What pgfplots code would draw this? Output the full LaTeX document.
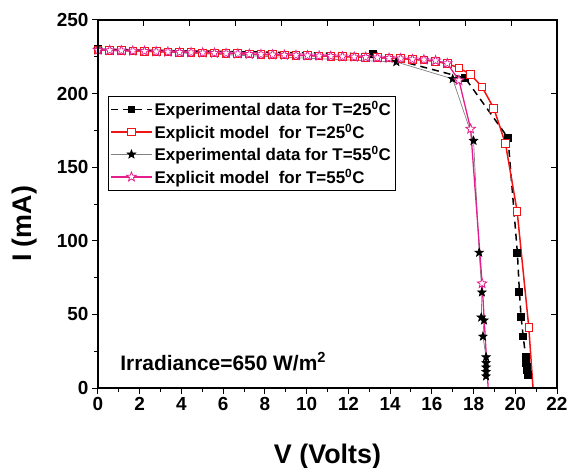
\documentclass[border=0pt]{standalone}
\usepackage{fontspec}
\setmainfont{Liberation Sans}
\usepackage{pgfplots}
\pgfplotsset{compat=1.18}
\usetikzlibrary{shapes.geometric}
\definecolor{orred}{RGB}{240,20,20}
\definecolor{ormag}{RGB}{228,30,140}

% filled five-pointed star
\pgfdeclareplotmark{fstar}{%
  \pgfpathmoveto{\pgfpointpolar{90}{\pgfplotmarksize}}%
  \pgfpathlineto{\pgfpointpolar{126}{0.42\pgfplotmarksize}}%
  \pgfpathlineto{\pgfpointpolar{162}{\pgfplotmarksize}}%
  \pgfpathlineto{\pgfpointpolar{198}{0.42\pgfplotmarksize}}%
  \pgfpathlineto{\pgfpointpolar{234}{\pgfplotmarksize}}%
  \pgfpathlineto{\pgfpointpolar{270}{0.42\pgfplotmarksize}}%
  \pgfpathlineto{\pgfpointpolar{306}{\pgfplotmarksize}}%
  \pgfpathlineto{\pgfpointpolar{342}{0.42\pgfplotmarksize}}%
  \pgfpathlineto{\pgfpointpolar{18}{\pgfplotmarksize}}%
  \pgfpathlineto{\pgfpointpolar{54}{0.42\pgfplotmarksize}}%
  \pgfpathclose
  \pgfusepathqfillstroke
}

\pgfplotsset{
  exp25/.style={black, line width=1.5bp, dash pattern=on 7bp off 5bp,
    mark=square*, mark size=3.2bp, mark options={solid, fill=black}},
  mod25/.style={orred, line width=1.5bp, mark=square*, mark size=3.8bp,
    mark options={solid, draw=orred, fill=white, line width=1bp}},
  exp55/.style={gray, line width=0.7bp, mark=fstar, mark size=4.5bp,
    mark options={black, fill=black, line width=0.6bp}},
  mod55/.style={ormag, line width=1.3bp, mark=fstar, mark size=5bp,
    mark options={solid, draw=ormag, fill=white, line width=0.8bp}},
}

\begin{document}
\begin{tikzpicture}
\begin{axis}[
  name=ax,
  scale only axis,
  width=459bp, height=368bp,
  xmin=0, xmax=22, ymin=0, ymax=250,
  xtick={0,2,...,22}, ytick={0,50,...,250},
  minor x tick num=1, minor y tick num=1,
  xtick pos=bottom, ytick pos=left,
  tick align=outside,
  major tick length=6bp, minor tick length=3.5bp,
  axis line style={line width=1.1bp},
  every tick/.style={line width=1bp, black},
  ticklabel style={font=\bfseries\fontsize{19}{19}\selectfont},
  /pgf/number format/assume math mode=true,
  xlabel={V (Volts)}, ylabel={I (mA)},
  label style={font=\bfseries\fontsize{27}{27}\selectfont},
  xlabel style={at={(axis description cs:0.5,-0.205)}, anchor=base},
  ylabel style={at={(axis description cs:-0.161,0.446)}, anchor=center},
  legend style={at={(0.022,0.793)}, anchor=north west,
    font=\bfseries\fontsize{17}{20}\selectfont,
    draw=black, inner xsep=2bp, inner ysep=3bp, row sep=2.5bp,
    cells={anchor=west}},
]
\addplot[exp25, forget plot] coordinates {
  (0,230) (13.2,227) (17.6,210.5) (19.65,170) (20.1,92) (20.2,65)
  (20.28,48) (20.38,35) (20.5,21) (20.5,17) (20.55,14) (20.55,12) (20.6,9)
};
\addlegendimage{legend image code/.code={%
  \draw[black, line width=1.5bp, dash pattern=on 7bp off 5bp]
    (0cm,0cm) -- (1.44cm,0cm);
  \node[rectangle, anchor=center, fill=black, minimum size=6.4bp,
    inner sep=0pt] at (0.72cm,0cm) {};}}
\addlegendentry{Experimental data for T=25\textsuperscript{0}C}

\addplot[mod25, mark indices={1,...,38}, forget plot] coordinates {
  (0,229.6) (0.56,229.4) (1.12,229.2) (1.67,229.0) (2.23,228.8) (2.79,228.5)
  (3.35,228.3) (3.91,228.1) (4.46,227.9) (5.02,227.7) (5.58,227.5) (6.14,227.3)
  (6.70,227.1) (7.25,226.8) (7.81,226.6) (8.37,226.4) (8.93,226.2) (9.49,226.0)
  (10.04,225.8) (10.60,225.6) (11.16,225.4) (11.72,225.1) (12.28,224.9)
  (12.83,224.7) (13.39,224.4) (13.95,224.1) (14.51,223.8) (15.07,223.3)
  (15.62,222.7) (16.18,221.8) (16.74,220.3) (17.30,217.5) (17.86,213)
  (18.41,204.5) (18.97,190) (19.53,166) (20.09,120) (20.65,41) (20.85,0)
};
\addlegendimage{legend image code/.code={%
  \draw[orred, line width=1.5bp] (0cm,0cm) -- (1.44cm,0cm);
  \node[rectangle, anchor=center, draw=orred, fill=white, line width=1.1bp,
    minimum size=7.6bp, inner sep=0pt] at (0.72cm,0cm) {};}}
\addlegendentry{Explicit model\ \ for T=25\textsuperscript{0}C}

\addplot[exp55, forget plot] coordinates {
  (0,230) (14.3,221.5) (17.0,210) (18.0,168) (18.27,92) (18.4,65)
  (18.37,48) (18.5,46) (18.45,35) (18.6,21) (18.6,17) (18.6,14)
  (18.6,11) (18.6,8)
};
\addlegendimage{legend image code/.code={%
  \draw[gray, line width=0.7bp] (0cm,0cm) -- (1.44cm,0cm);
  \node[star, star points=5, star point ratio=2.4, anchor=center,
    draw=black, fill=black, line width=0.6bp, minimum size=9bp,
    inner sep=0pt] at (0.72cm,0cm) {};}}
\addlegendentry{Experimental data for T=55\textsuperscript{0}C}

\addplot[mod55, mark indices={1,...,34}, forget plot] coordinates {
  (0,229.6) (0.56,229.4) (1.12,229.2) (1.67,229.0) (2.23,228.8) (2.79,228.5)
  (3.35,228.3) (3.91,228.1) (4.46,227.9) (5.02,227.7) (5.58,227.5) (6.14,227.3)
  (6.70,227.1) (7.25,226.8) (7.81,226.6) (8.37,226.4) (8.93,226.2) (9.49,226.0)
  (10.04,225.8) (10.60,225.6) (11.16,225.4) (11.72,225.1) (12.28,224.9)
  (12.83,224.7) (13.39,224.4) (13.95,224.1) (14.51,223.8) (15.07,223.2)
  (15.62,223.0) (16.18,222.4) (16.74,220.5) (17.30,209) (17.86,176)
  (18.41,71) (18.70,0)
};
\addlegendimage{legend image code/.code={%
  \draw[ormag, line width=1.3bp] (0cm,0cm) -- (1.44cm,0cm);
  \node[star, star points=5, star point ratio=2.4, anchor=center,
    draw=ormag, fill=white, line width=0.8bp, minimum size=10bp,
    inner sep=0pt] at (0.72cm,0cm) {};}}
\addlegendentry{Explicit model\ \ for T=55\textsuperscript{0}C}

\node[anchor=base west, font=\bfseries\fontsize{21}{21}\selectfont]
  at (axis cs:0.9,12) {Irradiance=650 W/m\textsuperscript{2}};
\end{axis}

% top and right axes: inward ticks only
\begin{axis}[
  scale only axis,
  width=459bp, height=368bp,
  at={(ax.south west)}, anchor=south west,
  xmin=0, xmax=10, ymin=0, ymax=250,
  xtick={1,...,9}, ytick={50,100,150,200},
  xticklabels={}, yticklabels={},
  xtick pos=top, ytick pos=right,
  tick align=inside, major tick length=6bp,
  axis line style={line width=1.1bp},
  every tick/.style={line width=1bp, black},
]
\end{axis}

\pgfresetboundingbox
\path[use as bounding box] ([xshift=-98bp,yshift=-80bp]ax.south west)
  rectangle ++(568bp,468bp);
\end{tikzpicture}
\end{document}
